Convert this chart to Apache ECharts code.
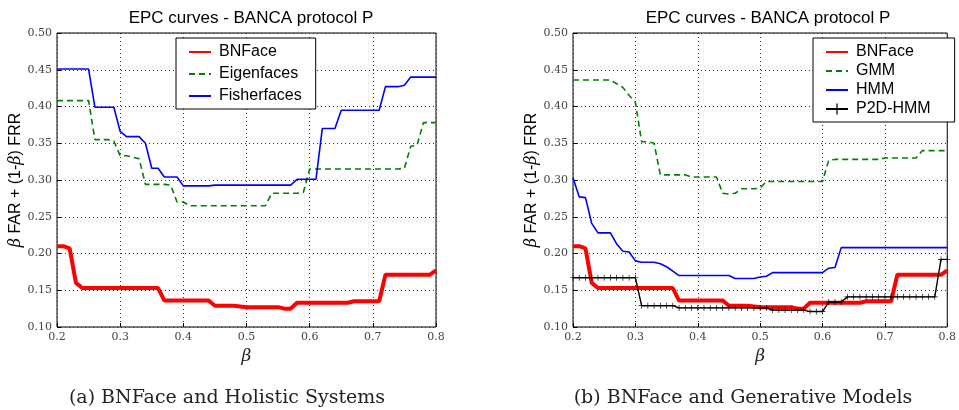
<!DOCTYPE html>
<html>
<head>
<meta charset="utf-8">
<script src="https://cdn.jsdelivr.net/npm/echarts@6/dist/echarts.min.js"></script>
<style>
  html, body { margin: 0; padding: 0; background: #fff; }
  #main { width: 959px; height: 410px; }
</style>
</head>
<body>
<div id="main"></div>
<script>
// beta values (x axis), one point every 0.01
var beta = [0.20, 0.21, 0.22, 0.23, 0.24, 0.25, 0.26, 0.27, 0.28, 0.29,
            0.30, 0.31, 0.32, 0.33, 0.34, 0.35, 0.36, 0.37, 0.38, 0.39,
            0.40, 0.41, 0.42, 0.43, 0.44, 0.45, 0.46, 0.47, 0.48, 0.49,
            0.50, 0.51, 0.52, 0.53, 0.54, 0.55, 0.56, 0.57, 0.58, 0.59,
            0.60, 0.61, 0.62, 0.63, 0.64, 0.65, 0.66, 0.67, 0.68, 0.69,
            0.70, 0.71, 0.72, 0.73, 0.74, 0.75, 0.76, 0.77, 0.78, 0.79, 0.80];

var bnface = [0.210, 0.210, 0.207, 0.160, 0.153, 0.153, 0.153, 0.153, 0.153, 0.153,
              0.153, 0.153, 0.153, 0.153, 0.153, 0.153, 0.153, 0.136, 0.136, 0.136,
              0.136, 0.136, 0.136, 0.136, 0.136, 0.129, 0.129, 0.129, 0.129, 0.128,
              0.127, 0.127, 0.127, 0.127, 0.127, 0.127, 0.125, 0.125, 0.133, 0.133,
              0.133, 0.133, 0.133, 0.133, 0.133, 0.133, 0.133, 0.135, 0.135, 0.135,
              0.135, 0.135, 0.171, 0.171, 0.171, 0.171, 0.171, 0.171, 0.171, 0.171, 0.177];

var eigenfaces = [0.408, 0.408, 0.408, 0.408, 0.408, 0.408, 0.355, 0.355, 0.355, 0.353,
                  0.333, 0.333, 0.331, 0.329, 0.294, 0.294, 0.294, 0.294, 0.293, 0.270,
                  0.270, 0.265, 0.265, 0.265, 0.265, 0.265, 0.265, 0.265, 0.265, 0.265,
                  0.265, 0.265, 0.265, 0.265, 0.282, 0.282, 0.282, 0.282, 0.282, 0.283,
                  0.315, 0.315, 0.315, 0.315, 0.315, 0.315, 0.315, 0.315, 0.315, 0.315,
                  0.315, 0.315, 0.315, 0.315, 0.315, 0.316, 0.346, 0.347, 0.378, 0.378, 0.378];

var fisherfaces = [0.451, 0.451, 0.451, 0.451, 0.451, 0.451, 0.399, 0.399, 0.399, 0.399,
                   0.366, 0.359, 0.359, 0.359, 0.350, 0.316, 0.316, 0.304, 0.304, 0.304,
                   0.292, 0.292, 0.292, 0.292, 0.292, 0.293, 0.293, 0.293, 0.293, 0.293,
                   0.293, 0.293, 0.293, 0.293, 0.293, 0.293, 0.293, 0.293, 0.301, 0.301,
                   0.301, 0.301, 0.370, 0.370, 0.370, 0.395, 0.395, 0.395, 0.395, 0.395,
                   0.395, 0.395, 0.427, 0.427, 0.427, 0.429, 0.440, 0.440, 0.440, 0.440, 0.440];

var gmm = [0.436, 0.436, 0.436, 0.436, 0.436, 0.436, 0.436, 0.431, 0.426, 0.415,
           0.406, 0.352, 0.352, 0.350, 0.307, 0.307, 0.307, 0.307, 0.307, 0.304,
           0.304, 0.304, 0.304, 0.304, 0.282, 0.281, 0.282, 0.288, 0.288, 0.288,
           0.289, 0.298, 0.298, 0.298, 0.298, 0.298, 0.298, 0.298, 0.298, 0.298,
           0.298, 0.327, 0.328, 0.328, 0.328, 0.328, 0.328, 0.328, 0.328, 0.328,
           0.330, 0.330, 0.330, 0.330, 0.330, 0.330, 0.340, 0.340, 0.340, 0.340, 0.340];

var hmm = [0.303, 0.277, 0.276, 0.241, 0.228, 0.228, 0.228, 0.213, 0.203, 0.202,
           0.190, 0.188, 0.188, 0.188, 0.186, 0.182, 0.176, 0.170, 0.170, 0.170,
           0.170, 0.170, 0.170, 0.170, 0.170, 0.170, 0.166, 0.166, 0.166, 0.166,
           0.168, 0.169, 0.174, 0.174, 0.174, 0.174, 0.174, 0.174, 0.174, 0.174,
           0.174, 0.180, 0.181, 0.208, 0.208, 0.208, 0.208, 0.208, 0.208, 0.208,
           0.208, 0.208, 0.208, 0.208, 0.208, 0.208, 0.208, 0.208, 0.208, 0.208, 0.208];

var p2dhmm = [0.167, 0.167, 0.167, 0.167, 0.167, 0.167, 0.167, 0.167, 0.167, 0.167,
              0.167, 0.129, 0.129, 0.129, 0.129, 0.129, 0.129, 0.126, 0.126, 0.126,
              0.126, 0.126, 0.126, 0.126, 0.126, 0.126, 0.126, 0.126, 0.126, 0.126,
              0.126, 0.126, 0.123, 0.123, 0.123, 0.123, 0.123, 0.123, 0.121, 0.121,
              0.121, 0.134, 0.134, 0.134, 0.141, 0.141, 0.141, 0.141, 0.141, 0.141,
              0.141, 0.141, 0.141, 0.141, 0.141, 0.141, 0.141, 0.141, 0.141, 0.192, 0.192];

var chartTitle = 'EPC curves - BANCA protocol P';
var captions = ['(a) BNFace and Holistic Systems', '(b) BNFace and Generative Models'];
var legendLeft = ['BNFace', 'Eigenfaces', 'Fisherfaces'];
var legendRight = ['BNFace', 'GMM', 'HMM', 'P2D-HMM'];

var pairs = function (ys) {
    var res = [];
    for (var i = 0; i < beta.length; i++) {
        res.push([beta[i], ys[i]]);
    }
    return res;
};

var dom = document.getElementById('main');
var myChart = echarts.init(dom, null, {renderer: 'canvas'});

var serif = '"DejaVu Serif", serif';
var sans = '"Liberation Sans", Arial, sans-serif';
var plus = 'path://M4,0H5V4H9V5H5V9H4V5H0V4H4Z';

var makeX = function (idx) {
    return {
        type: 'value', gridIndex: idx, min: 0.2, max: 0.8, interval: 0.1,
        name: 'β', nameLocation: 'middle', nameGap: 20,
        nameTextStyle: {fontFamily: serif, fontStyle: 'italic', fontSize: 17, color: '#222'},
        axisLine: {show: false},
        axisTick: {show: true, inside: true, length: 4, lineStyle: {color: '#000'}},
        axisLabel: {fontFamily: serif, fontSize: 11, color: '#444', margin: 5,
                    formatter: function (v) { return v.toFixed(1); }},
        splitLine: {show: true, lineStyle: {color: '#333', type: [1, 3], width: 1}}
    };
};

var makeY = function (idx) {
    return {
        type: 'value', gridIndex: idx, min: 0.1, max: 0.5, interval: 0.05,
        name: '{b|β} FAR + (1-{b|β}) FRR', nameLocation: 'middle', nameGap: 30, nameRotate: 90,
        nameTextStyle: {fontFamily: sans, fontSize: 16, color: '#000',
                        rich: {b: {fontFamily: serif, fontStyle: 'italic', fontSize: 16, color: '#000'}}},
        axisLine: {show: false},
        axisTick: {show: true, inside: true, length: 4, lineStyle: {color: '#000'}},
        axisLabel: {fontFamily: serif, fontSize: 11, color: '#444', margin: 5,
                    formatter: function (v) { return v.toFixed(2); }},
        splitLine: {show: true, lineStyle: {color: '#333', type: [1, 3], width: 1}}
    };
};

var lineSeries = function (name, idx, ys, color, width, dashed, symbol) {
    return {
        type: 'line', name: name, xAxisIndex: idx, yAxisIndex: idx,
        data: pairs(ys),
        symbol: symbol || 'none', symbolSize: 6, showSymbol: !!symbol,
        itemStyle: {color: color},
        lineStyle: {color: color, width: width, type: dashed ? [6, 4] : 'solid'},
        animation: false, silent: true
    };
};

// legend entries: hide the symbol in the icon, except for the marked series
var legendItems = function (names) {
    return names.map(function (n) {
        return {name: n, itemStyle: {opacity: n === 'P2D-HMM' ? 1 : 0}};
    });
};

var legendBox = function (left, top, names, gap, padRight) {
    return {
        orient: 'vertical', left: left, top: top, data: legendItems(names),
        backgroundColor: '#fff', borderColor: '#000', borderWidth: 1, borderRadius: 0,
        padding: [6, padRight, 5, 12], itemWidth: 22, itemHeight: 14, itemGap: gap,
        selectedMode: false,
        textStyle: {fontFamily: sans, fontSize: 16, color: '#000', padding: [0, 0, 0, 3]}
    };
};

var option = {
    backgroundColor: '#fff',
    animation: false,
    title: [
        {text: chartTitle, left: 246, top: 5, textAlign: 'center',
         textStyle: {fontFamily: sans, fontSize: 17, fontWeight: 'normal', color: '#000'}},
        {text: chartTitle, left: 763, top: 5, textAlign: 'center',
         textStyle: {fontFamily: sans, fontSize: 17, fontWeight: 'normal', color: '#000'}},
        {text: captions[0], left: 222, top: 384, textAlign: 'center',
         textStyle: {fontFamily: serif, fontSize: 19, fontWeight: 'normal', color: '#222'}},
        {text: captions[1], left: 738, top: 384, textAlign: 'center',
         textStyle: {fontFamily: serif, fontSize: 19, fontWeight: 'normal', color: '#222'}}
    ],
    grid: [
        {left: 57, top: 33, width: 379, height: 294, show: true, borderColor: '#000', borderWidth: 1, containLabel: false},
        {left: 573, top: 33, width: 380, height: 294, show: true, borderColor: '#000', borderWidth: 1, containLabel: false}
    ],
    legend: [
        legendBox(176, 38, legendLeft, 6, 14),
        legendBox(813, 38, legendRight, 3, 24)
    ],
    xAxis: [makeX(0), makeX(1)],
    yAxis: [makeY(0), makeY(1)],
    series: [
        lineSeries('BNFace', 0, bnface, '#ff0000', 4),
        lineSeries('Eigenfaces', 0, eigenfaces, '#008000', 1.6, true),
        lineSeries('Fisherfaces', 0, fisherfaces, '#0000ff', 1.6),
        lineSeries('BNFace', 1, bnface, '#ff0000', 4),
        lineSeries('GMM', 1, gmm, '#008000', 1.6, true),
        lineSeries('HMM', 1, hmm, '#0000ff', 1.6),
        lineSeries('P2D-HMM', 1, p2dhmm, '#000000', 1.4, false, plus)
    ]
};

myChart.setOption(option, true);
</script>
</body>
</html>
